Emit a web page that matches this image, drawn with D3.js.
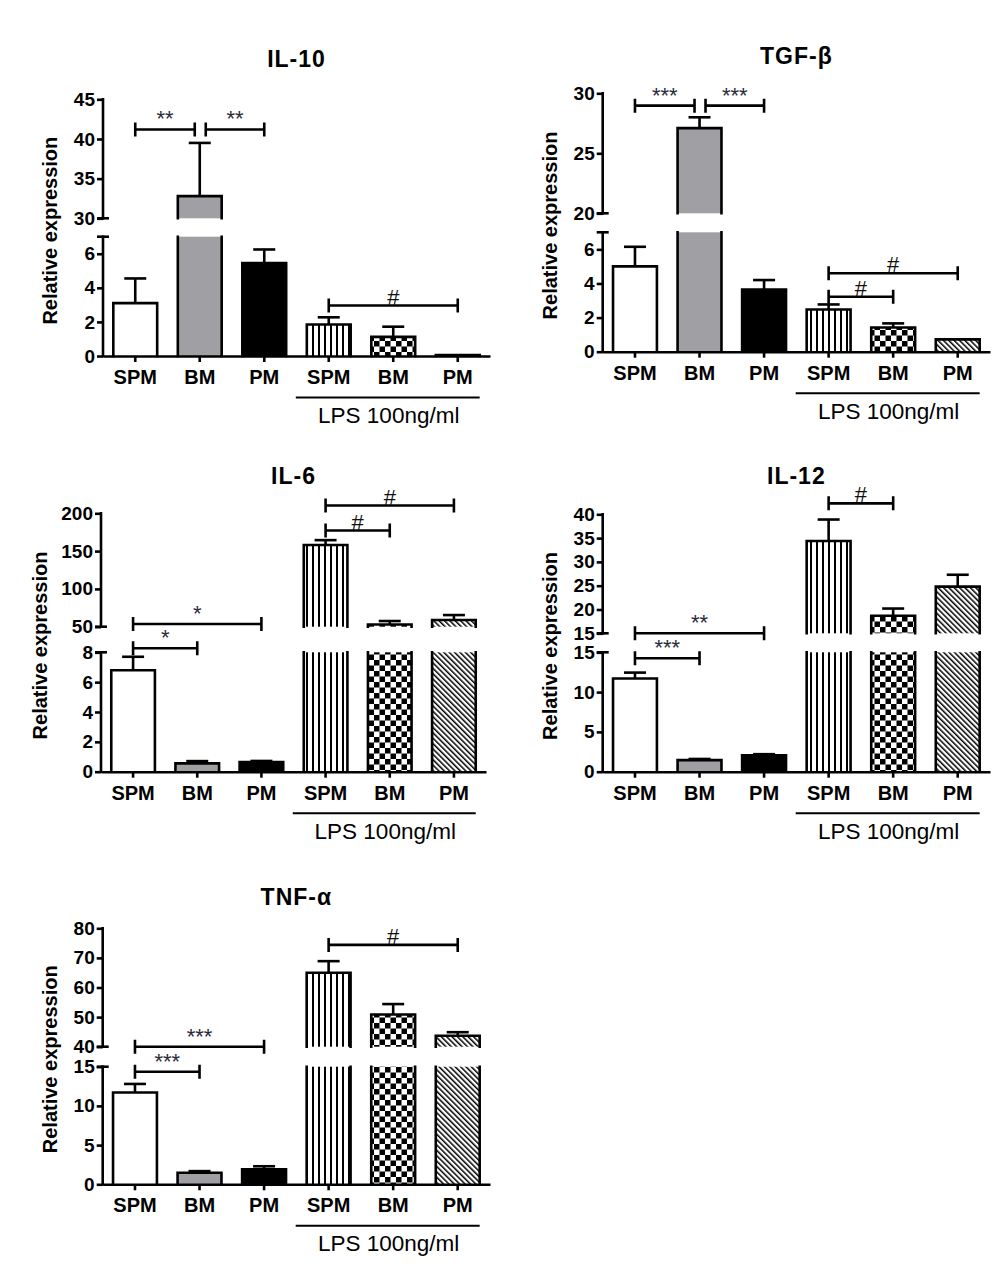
<!DOCTYPE html>
<html>
<head>
<meta charset="utf-8">
<script src="https://cdn.jsdelivr.net/npm/d3@7"></script>
<style>
  html, body { margin: 0; padding: 0; background: #fff; }
  svg { display: block; font-family: "Liberation Sans", Arial, sans-serif; }
</style>
</head>
<body>
<svg id="chart" width="1004" height="1277"></svg>
<script>
// ---------------- DATA ----------------
const groups = ["SPM", "BM", "PM", "SPM", "BM", "PM"];
const lpsLabel = "LPS 100ng/ml";
const yLabel = "Relative expression";

const il10Mean = [3.1, 32.8, 5.45, 1.85, 1.12, 0.05];
const il10Err  = [1.45, 6.7, 0.8, 0.42, 0.6, 0];
const tgfMean  = [5.0, 27.1, 3.65, 2.47, 1.42, 0.72];
const tgfErr   = [1.15, 0.9, 0.55, 0.3, 0.24, 0];
const il6Mean  = [6.8, 0.56, 0.65, 158, 53, 58.8];
const il6Err   = [0.9, 0.15, 0.07, 6.5, 4.5, 6.6];
const il12Mean = [11.7, 1.45, 2.05, 34.4, 18.7, 24.8];
const il12Err  = [0.75, 0.15, 0.15, 4.5, 1.5, 2.5];
const tnfMean  = [11.7, 1.48, 1.9, 65, 50.9, 43.7];
const tnfErr   = [1.1, 0.2, 0.4, 3.9, 3.5, 1.2];

// axis segments [lower domain], [upper domain] and tick values
const il10Lower = [0, 7],  il10LowerTicks = [0, 2, 4, 6];
const il10Upper = [30, 45], il10UpperTicks = [30, 35, 40, 45];
const tgfLower = [0, 7],   tgfLowerTicks = [0, 2, 4, 6];
const tgfUpper = [20, 30], tgfUpperTicks = [20, 25, 30];
const il6Lower = [0, 8],   il6LowerTicks = [0, 2, 4, 6, 8];
const il6Upper = [50, 200], il6UpperTicks = [50, 100, 150, 200];
const il12Lower = [0, 15], il12LowerTicks = [0, 5, 10, 15];
const il12Upper = [15, 40], il12UpperTicks = [15, 20, 25, 30, 35, 40];
const tnfLower = [0, 15],  tnfLowerTicks = [0, 5, 10, 15];
const tnfUpper = [40, 80], tnfUpperTicks = [40, 50, 60, 70, 80];

// significance brackets: [from group, to group, level (data units), label]
const il10Sig = [[0, 1, 41.2, "**"], [1, 2, 41.2, "**"], [3, 5, 2.96, "#"]];
const tgfSig  = [[0, 1, 28.97, "***"], [1, 2, 28.97, "***"], [3, 5, 4.6, "#"], [3, 4, 3.22, "#"]];
const il6Sig  = [[0, 2, 53.6, "*"], [0, 1, 8.27, "*"], [3, 5, 210.3, "#"], [3, 4, 177.2, "#"]];
const il12Sig = [[0, 2, 15, "**"], [0, 1, 14.25, "***"], [3, 4, 42.3, "#"]];
const tnfSig  = [[0, 2, 40, "***"], [0, 1, 14.36, "***"], [3, 5, 74.4, "#"]];

// ---------------- STYLE / LAYOUT ----------------
const fills = ["#ffffff", "#a0a0a4", "#000000", "url(#vstripe)", "url(#checker)", "url(#diag)"];

const panels = [
  { title: "IL-10", mean: il10Mean, err: il10Err, lower: il10Lower, lowerTicks: il10LowerTicks,
    upper: il10Upper, upperTicks: il10UpperTicks, sig: il10Sig,
    axisX: 103, xEnd: 490, base: 356, lowerTop: 236.7, upperBottom: 218.3, upperTop: 99.3, titleY: 65.5, ylabOff: 46 },
  { title: "TGF-β", mean: tgfMean, err: tgfErr, lower: tgfLower, lowerTicks: tgfLowerTicks,
    upper: tgfUpper, upperTicks: tgfUpperTicks, sig: tgfSig,
    axisX: 602.7, xEnd: 990, base: 351.7, lowerTop: 232.3, upperBottom: 213.3, upperTop: 93.3, titleY: 62.5, ylabOff: 46 },
  { title: "IL-6", mean: il6Mean, err: il6Err, lower: il6Lower, lowerTicks: il6LowerTicks,
    upper: il6Upper, upperTicks: il6UpperTicks, sig: il6Sig,
    axisX: 101, xEnd: 486, base: 771.7, lowerTop: 652.3, upperBottom: 626.7, upperTop: 513.3, titleY: 482.5, ylabOff: 54 },
  { title: "IL-12", mean: il12Mean, err: il12Err, lower: il12Lower, lowerTicks: il12LowerTicks,
    upper: il12Upper, upperTicks: il12UpperTicks, sig: il12Sig,
    axisX: 602.7, xEnd: 990, base: 771.7, lowerTop: 652.3, upperBottom: 633.3, upperTop: 514.3, titleY: 482.5, ylabOff: 46 },
  { title: "TNF-α", mean: tnfMean, err: tnfErr, lower: tnfLower, lowerTicks: tnfLowerTicks,
    upper: tnfUpper, upperTicks: tnfUpperTicks, sig: tnfSig,
    axisX: 102.7, xEnd: 490, base: 1184.3, lowerTop: 1066.7, upperBottom: 1046.7, upperTop: 928.3, titleY: 904, ylabOff: 46 }
];

const svg = d3.select("#chart");
const defs = svg.append("defs");

// patterns
const pv = defs.append("pattern").attr("id", "vstripe").attr("patternUnits", "userSpaceOnUse")
  .attr("width", 6).attr("height", 10);
pv.append("rect").attr("width", 6).attr("height", 10).attr("fill", "#fff");
pv.append("rect").attr("x", 0).attr("width", 2).attr("height", 10).attr("fill", "#000");

const pc = defs.append("pattern").attr("id", "checker").attr("patternUnits", "userSpaceOnUse")
  .attr("width", 11).attr("height", 11);
pc.append("rect").attr("width", 11).attr("height", 11).attr("fill", "#fff");
pc.append("rect").attr("width", 5.5).attr("height", 5.5).attr("fill", "#000");
pc.append("rect").attr("x", 5.5).attr("y", 5.5).attr("width", 5.5).attr("height", 5.5).attr("fill", "#000");

const pd = defs.append("pattern").attr("id", "diag").attr("patternUnits", "userSpaceOnUse")
  .attr("width", 3.8).attr("height", 3.8).attr("patternTransform", "rotate(-45)");
pd.append("rect").attr("width", 3.8).attr("height", 3.8).attr("fill", "#fff");
pd.append("rect").attr("width", 1.5).attr("height", 3.8).attr("fill", "#000");

const LW = 2.6;
const FONT = '"Liberation Sans", Arial, sans-serif';

panels.forEach(p => {
  const g = svg.append("g");
  const x = d3.scaleBand().domain(d3.range(groups.length))
    .range([p.axisX, p.xEnd]).paddingInner(0.32).paddingOuter(0.16);
  const yL = d3.scaleLinear().domain(p.lower).range([p.base, p.lowerTop]);
  const yU = d3.scaleLinear().domain(p.upper).range([p.upperBottom, p.upperTop]);
  const yAny = v => (v >= p.upper[0] ? yU(v) : yL(v));
  const cx = i => x(i) + x.bandwidth() / 2;

  // ---- bars ----
  p.mean.forEach((v, i) => {
    const x0 = x(i), w = x.bandwidth();
    const segs = [];
    const lowTopVal = Math.min(v, p.lower[1]);
    segs.push({ y0: yL(0), y1: yL(lowTopVal), closedTop: v <= p.lower[1] });
    if (v > p.upper[0]) {
      segs.push({ y0: yU(p.upper[0]), y1: yU(v), closedTop: true });
    }
    segs.forEach(s => {
      g.append("rect").attr("x", x0).attr("y", s.y1).attr("width", w)
        .attr("height", Math.max(0, s.y0 - s.y1)).attr("fill", fills[i]);
      let d = `M${x0},${s.y0}L${x0},${s.y1}`;
      d += s.closedTop ? `L${x0 + w},${s.y1}` : `M${x0 + w},${s.y1}`;
      d += `L${x0 + w},${s.y0}`;
      g.append("path").attr("d", d).attr("fill", "none").attr("stroke", "#000")
        .attr("stroke-width", LW).attr("stroke-linejoin", "miter").attr("stroke-linecap", "square");
    });
    if (p.err[i] > 0) {
      const yt = yAny(v), ye = yAny(v + p.err[i]);
      g.append("line").attr("x1", cx(i)).attr("x2", cx(i)).attr("y1", yt).attr("y2", ye)
        .attr("stroke", "#000").attr("stroke-width", LW);
      g.append("line").attr("x1", cx(i) - 11).attr("x2", cx(i) + 11).attr("y1", ye).attr("y2", ye)
        .attr("stroke", "#000").attr("stroke-width", LW);
    }
  });

  // ---- y axis segments ----
  const styleAxis = sel => {
    sel.select(".domain").remove();
    sel.selectAll(".tick line").attr("stroke", "#000").attr("stroke-width", LW);
    sel.selectAll(".tick text").attr("font-size", 19).attr("font-weight", "bold")
      .attr("fill", "#000").attr("font-family", FONT);
  };
  const fmt = d3.format("d");
  const axL = g.append("g").attr("transform", `translate(${p.axisX},0)`)
    .call(d3.axisLeft(yL).tickValues(p.lowerTicks).tickFormat(fmt).tickSize(6).tickPadding(2).tickSizeOuter(0));
  styleAxis(axL);
  const axU = g.append("g").attr("transform", `translate(${p.axisX},0)`)
    .call(d3.axisLeft(yU).tickValues(p.upperTicks).tickFormat(fmt).tickSize(6).tickPadding(2).tickSizeOuter(0));
  styleAxis(axU);
  g.append("line").attr("x1", p.axisX).attr("x2", p.axisX).attr("y1", yL(0)).attr("y2", yL(p.lower[1]))
    .attr("stroke", "#000").attr("stroke-width", LW).attr("stroke-linecap", "square");
  g.append("line").attr("x1", p.axisX).attr("x2", p.axisX).attr("y1", yU(p.upper[0])).attr("y2", yU(p.upper[1]))
    .attr("stroke", "#000").attr("stroke-width", LW).attr("stroke-linecap", "square");
  [yL(p.lower[1]), yU(p.upper[0])].forEach(yy => {
    g.append("line").attr("x1", p.axisX - 6).attr("x2", p.axisX + 6).attr("y1", yy).attr("y2", yy)
      .attr("stroke", "#000").attr("stroke-width", LW);
  });

  // ---- x axis ----
  const axX = g.append("g").attr("transform", `translate(0,${p.base})`)
    .call(d3.axisBottom(x).tickSize(6).tickPadding(8).tickSizeOuter(0).tickFormat(i => groups[i]));
  axX.select(".domain").attr("stroke", "#000").attr("stroke-width", LW);
  axX.selectAll(".tick line").attr("stroke", "#000").attr("stroke-width", LW);
  axX.selectAll(".tick text").attr("font-size", 20).attr("font-weight", "bold").attr("fill", "#000")
    .attr("font-family", FONT);

  // ---- LPS line & label ----
  const lx1 = x(3) - 11, lx2 = x(5) + x.bandwidth();
  g.append("line").attr("x1", lx1).attr("x2", lx2).attr("y1", p.base + 41.5).attr("y2", p.base + 41.5)
    .attr("stroke", "#000").attr("stroke-width", 2);
  g.append("text").attr("x", (lx1 + lx2) / 2 + 1).attr("y", p.base + 67).attr("text-anchor", "middle")
    .attr("font-size", 22.5).attr("fill", "#000").text(lpsLabel);

  // ---- title ----
  g.append("text").attr("x", (p.axisX + p.xEnd) / 2).attr("y", p.titleY + 1).attr("text-anchor", "middle")
    .attr("font-size", 23).attr("font-weight", "bold").attr("letter-spacing", 1).attr("fill", "#000").text(p.title);

  // ---- y label ----
  const ymid = (p.base + p.upperTop) / 2 + 3;
  g.append("text").attr("transform", `translate(${p.axisX - p.ylabOff},${ymid}) rotate(-90)`)
    .attr("text-anchor", "middle").attr("font-size", 20).attr("font-weight", "bold").attr("fill", "#000").text(yLabel);

  // ---- significance brackets ----
  p.sig.forEach(([a, b, lvl, lab]) => {
    let x1 = cx(a), x2 = cx(b);
    p.sig.forEach(([a2, b2, l2]) => {
      if (l2 === lvl && a2 === b) x2 -= 5;
      if (l2 === lvl && b2 === a) x1 += 6;
    });
    const yy = yAny(lvl);
    g.append("path").attr("d", `M${x1},${yy - 7}V${yy + 7}M${x1},${yy}H${x2}M${x2},${yy - 7}V${yy + 7}`)
      .attr("fill", "none").attr("stroke", "#000").attr("stroke-width", LW);
    const isHash = lab === "#";
    g.append("text").attr("x", (x1 + x2) / 2).attr("y", isHash ? yy - 1 : yy - 3)
      .attr("text-anchor", "middle").attr("font-size", isHash ? 22 : 22)
      .attr("fill", isHash ? "#111" : "#2a2a3a").text(lab);
  });
});
</script>
</body>
</html>
